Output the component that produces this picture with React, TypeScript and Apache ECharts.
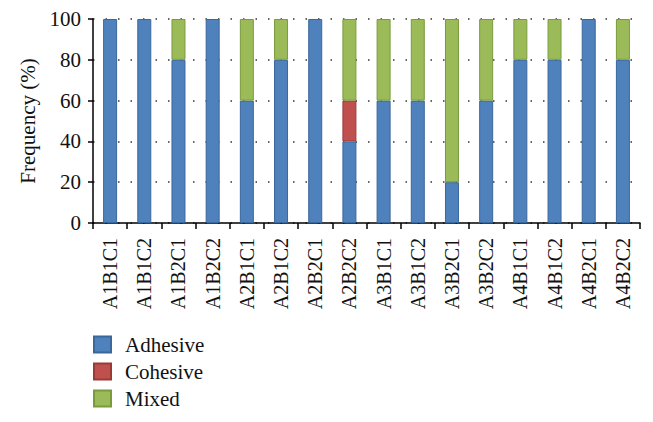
import React, { useEffect, useRef } from "react";
import * as echarts from "echarts";

const categories = [
  "A1B1C1", "A1B1C2", "A1B2C1", "A1B2C2", "A2B1C1", "A2B1C2", "A2B2C1", "A2B2C2",
  "A3B1C1", "A3B1C2", "A3B2C1", "A3B2C2", "A4B1C1", "A4B1C2", "A4B2C1", "A4B2C2",
];
const adhesive = [100, 100, 80, 100, 60, 80, 100, 40, 60, 60, 20, 60, 80, 80, 100, 80];
const cohesive = [0, 0, 0, 0, 0, 0, 0, 20, 0, 0, 0, 0, 0, 0, 0, 0];
const mixed = [0, 0, 20, 0, 40, 20, 0, 40, 40, 40, 80, 40, 20, 20, 0, 20];

const FONT = "Liberation Serif";

export default function App() {
  const ref = useRef<HTMLDivElement>(null);
  useEffect(() => {
    if (!ref.current) return;
    const chart = echarts.init(ref.current, undefined, { renderer: "svg" });
    const mk = (name: string, data: number[], color: string, border: string) => ({
      name,
      type: "bar",
      stack: "total",
      data: data.map((v) => (v === 0 ? "-" : v)),
      barWidth: 14,
      itemStyle: { color, borderColor: border, borderWidth: 1 },
    });
    chart.setOption({
      animation: false,
      textStyle: { fontFamily: FONT },
      grid: { left: 93, right: 13, top: 19, bottom: 199, containLabel: false },
      legend: {
        orient: "vertical",
        left: 93,
        top: 334,
        padding: 0,
        itemWidth: 17,
        itemHeight: 16,
        itemGap: 6,
        icon: "rect",
        textStyle: {
          fontFamily: FONT,
          fontSize: 21,
          color: "#111",
          padding: [0, 0, 0, 9],
        },
        data: ["Adhesive", "Cohesive", "Mixed"],
      },
      xAxis: {
        type: "category",
        data: categories,
        axisLine: { lineStyle: { color: "#000", width: 1.5 } },
        axisTick: { show: true, length: 6, lineStyle: { color: "#000", width: 1.5 } },
        axisLabel: {
          rotate: 90,
          interval: 0,
          fontFamily: FONT,
          fontSize: 20,
          color: "#111",
          margin: 15,
        },
      },
      yAxis: {
        type: "value",
        min: 0,
        max: 100,
        interval: 20,
        name: "Frequency (%)",
        nameLocation: "middle",
        nameGap: 55,
        nameTextStyle: { fontFamily: FONT, fontSize: 21, color: "#111" },
        axisLine: { show: true, lineStyle: { color: "#000", width: 1.5 } },
        axisTick: { show: true, length: 5, lineStyle: { color: "#000", width: 1.5 } },
        axisLabel: { fontFamily: FONT, fontSize: 21, color: "#111", margin: 12 },
        splitLine: { show: true, lineStyle: { color: "#333", type: [1.5, 11], width: 1.5 } },
      },
      series: [
        mk("Adhesive", adhesive, "#4F81BD", "#3A679C"),
        mk("Cohesive", cohesive, "#C0504D", "#9A3A37"),
        mk("Mixed", mixed, "#9BBB59", "#7A9A3E"),
      ],
    });
    return () => chart.dispose();
  }, []);
  return (
    <div
      ref={ref}
      style={{ position: "absolute", left: 0, top: 0, width: 653, height: 422 }}
    />
  );
}
